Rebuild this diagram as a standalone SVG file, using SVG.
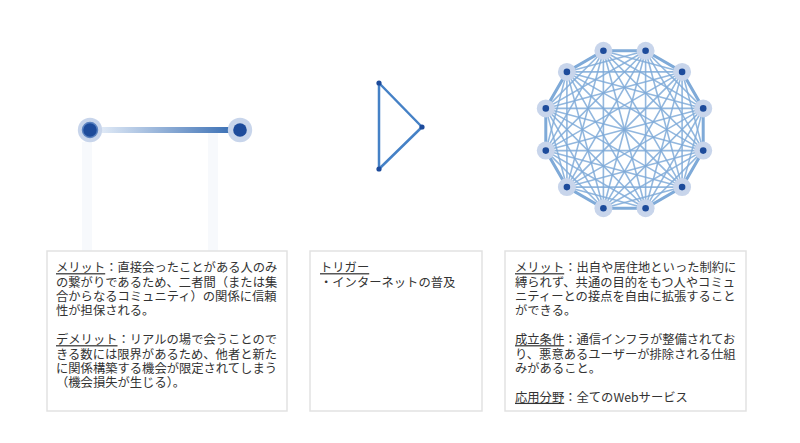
<svg xmlns="http://www.w3.org/2000/svg" width="800" height="443" viewBox="0 0 800 443">
<style>
.box{fill:#fff;stroke:#e2e2e2;stroke-width:1.5}
.t{font-family:"Noto Sans CJK JP","Noto Sans",sans-serif;font-size:12.3px;fill:#333}
.u{text-decoration:underline}
.halo{fill:#c8d5eb}
.core{fill:#1d4b9b}
.e{fill:none;stroke:#7faad8;stroke-width:1.6;stroke-opacity:0.85}
</style>
<defs>
<linearGradient id="lg" x1="102" y1="0" x2="233" y2="0" gradientUnits="userSpaceOnUse">
<stop offset="0" stop-color="#dfe9f6"/>
<stop offset="1" stop-color="#3a6fb4"/>
</linearGradient>
</defs>
<rect width="800" height="443" fill="#fff"/>

<g id="faint-bars">
<rect x="82" y="142" width="10" height="109" fill="#f7f9fc"/>
<rect x="208" y="133" width="10" height="118" fill="#f7f9fc"/>
</g>

<g id="connectors">
<line x1="102" y1="130" x2="233" y2="130" stroke="url(#lg)" stroke-width="6"/>
<polygon points="379,83 422,127 379,169" fill="none" stroke="#4581c6" stroke-width="2.5" stroke-linejoin="round"/>
<polygon points="645.6,50.8 682.1,71.9 703.2,108.4 703.2,150.6 682.1,187.1 645.6,208.2 603.4,208.2 566.9,187.1 545.8,150.6 545.8,108.4 566.9,71.9 603.4,50.8" fill="none" stroke="#7faad8" stroke-width="3"/>
<path class="e" d="M645.6 50.8L682.1 71.9M645.6 50.8L703.2 108.4M645.6 50.8L703.2 150.6M645.6 50.8L682.1 187.1M645.6 50.8L645.6 208.2M645.6 50.8L603.4 208.2M645.6 50.8L566.9 187.1M645.6 50.8L545.8 150.6M645.6 50.8L545.8 108.4M645.6 50.8L566.9 71.9M645.6 50.8L603.4 50.8"/>
<path class="e" d="M682.1 71.9L703.2 108.4M682.1 71.9L703.2 150.6M682.1 71.9L682.1 187.1M682.1 71.9L645.6 208.2M682.1 71.9L603.4 208.2M682.1 71.9L566.9 187.1M682.1 71.9L545.8 150.6M682.1 71.9L545.8 108.4M682.1 71.9L566.9 71.9M682.1 71.9L603.4 50.8"/>
<path class="e" d="M703.2 108.4L703.2 150.6M703.2 108.4L682.1 187.1M703.2 108.4L645.6 208.2M703.2 108.4L603.4 208.2M703.2 108.4L566.9 187.1M703.2 108.4L545.8 150.6M703.2 108.4L545.8 108.4M703.2 108.4L566.9 71.9M703.2 108.4L603.4 50.8"/>
<path class="e" d="M703.2 150.6L682.1 187.1M703.2 150.6L645.6 208.2M703.2 150.6L603.4 208.2M703.2 150.6L566.9 187.1M703.2 150.6L545.8 150.6M703.2 150.6L545.8 108.4M703.2 150.6L566.9 71.9M703.2 150.6L603.4 50.8"/>
<path class="e" d="M682.1 187.1L645.6 208.2M682.1 187.1L603.4 208.2M682.1 187.1L566.9 187.1M682.1 187.1L545.8 150.6M682.1 187.1L545.8 108.4M682.1 187.1L566.9 71.9M682.1 187.1L603.4 50.8"/>
<path class="e" d="M645.6 208.2L603.4 208.2M645.6 208.2L566.9 187.1M645.6 208.2L545.8 150.6M645.6 208.2L545.8 108.4M645.6 208.2L566.9 71.9M645.6 208.2L603.4 50.8"/>
<path class="e" d="M603.4 208.2L566.9 187.1M603.4 208.2L545.8 150.6M603.4 208.2L545.8 108.4M603.4 208.2L566.9 71.9M603.4 208.2L603.4 50.8"/>
<path class="e" d="M566.9 187.1L545.8 150.6M566.9 187.1L545.8 108.4M566.9 187.1L566.9 71.9M566.9 187.1L603.4 50.8"/>
<path class="e" d="M545.8 150.6L545.8 108.4M545.8 150.6L566.9 71.9M545.8 150.6L603.4 50.8"/>
<path class="e" d="M545.8 108.4L566.9 71.9M545.8 108.4L603.4 50.8"/>
<path class="e" d="M566.9 71.9L603.4 50.8"/>
</g>

<g id="pair-node-left"><circle class="halo" cx="90" cy="130" r="12.2"/><circle cx="90" cy="130" r="7.5" fill="#1d4b9b" stroke="#5a82c0" stroke-width="1.5"/></g>
<g id="pair-node-right"><circle class="halo" cx="240" cy="130" r="12.2"/><circle class="core" cx="240" cy="130" r="6.8"/></g>

<g id="tri-node-1"><circle class="core" cx="379" cy="83" r="2.6"/></g>
<g id="tri-node-2"><circle class="core" cx="422" cy="127" r="2.6"/></g>
<g id="tri-node-3"><circle class="core" cx="379" cy="169" r="2.6"/></g>

<g id="mesh-node-0"><circle class="halo" cx="645.6" cy="50.8" r="9"/><circle class="core" cx="645.6" cy="50.8" r="3.3"/></g>
<g id="mesh-node-1"><circle class="halo" cx="682.1" cy="71.9" r="9"/><circle class="core" cx="682.1" cy="71.9" r="3.3"/></g>
<g id="mesh-node-2"><circle class="halo" cx="703.2" cy="108.4" r="9"/><circle class="core" cx="703.2" cy="108.4" r="3.3"/></g>
<g id="mesh-node-3"><circle class="halo" cx="703.2" cy="150.6" r="9"/><circle class="core" cx="703.2" cy="150.6" r="3.3"/></g>
<g id="mesh-node-4"><circle class="halo" cx="682.1" cy="187.1" r="9"/><circle class="core" cx="682.1" cy="187.1" r="3.3"/></g>
<g id="mesh-node-5"><circle class="halo" cx="645.6" cy="208.2" r="9"/><circle class="core" cx="645.6" cy="208.2" r="3.3"/></g>
<g id="mesh-node-6"><circle class="halo" cx="603.4" cy="208.2" r="9"/><circle class="core" cx="603.4" cy="208.2" r="3.3"/></g>
<g id="mesh-node-7"><circle class="halo" cx="566.9" cy="187.1" r="9"/><circle class="core" cx="566.9" cy="187.1" r="3.3"/></g>
<g id="mesh-node-8"><circle class="halo" cx="545.8" cy="150.6" r="9"/><circle class="core" cx="545.8" cy="150.6" r="3.3"/></g>
<g id="mesh-node-9"><circle class="halo" cx="545.8" cy="108.4" r="9"/><circle class="core" cx="545.8" cy="108.4" r="3.3"/></g>
<g id="mesh-node-10"><circle class="halo" cx="566.9" cy="71.9" r="9"/><circle class="core" cx="566.9" cy="71.9" r="3.3"/></g>
<g id="mesh-node-11"><circle class="halo" cx="603.4" cy="50.8" r="9"/><circle class="core" cx="603.4" cy="50.8" r="3.3"/></g>

<g id="box-left">
<rect class="box" x="47" y="251" width="240" height="160"/>
<text class="t"><tspan x="56" y="272.2"><tspan class="u">メリット</tspan>：直接会ったことがある人のみ</tspan><tspan x="56" y="286.6">の繋がりであるため、二者間（または集</tspan><tspan x="56" y="301">合からなるコミュニティ）の関係に信頼</tspan><tspan x="56" y="315.4">性が担保される。</tspan><tspan x="56" y="344.2"><tspan class="u">デメリット</tspan>：リアルの場で会うことので</tspan><tspan x="56" y="358.6">きる数には限界があるため、他者と新た</tspan><tspan x="56" y="373">に関係構築する機会が限定されてしまう</tspan><tspan x="56" y="387.4">（機会損失が生じる）。</tspan></text>
</g>

<g id="box-middle">
<rect class="box" x="310" y="251" width="172" height="160"/>
<text class="t"><tspan x="320" y="272.2" class="u">トリガー</tspan><tspan x="320" y="286.6">・インターネットの普及</tspan></text>
</g>

<g id="box-right">
<rect class="box" x="505" y="251" width="241" height="160"/>
<text class="t"><tspan x="515" y="272.2"><tspan class="u">メリット</tspan>：出自や居住地といった制約に</tspan><tspan x="515" y="286.6">縛られず、共通の目的をもつ人やコミュ</tspan><tspan x="515" y="301">ニティーとの接点を自由に拡張すること</tspan><tspan x="515" y="315.4">ができる。</tspan><tspan x="515" y="344.2"><tspan class="u">成立条件</tspan>：通信インフラが整備されてお</tspan><tspan x="515" y="358.6">り、悪意あるユーザーが排除される仕組</tspan><tspan x="515" y="373">みがあること。</tspan><tspan x="515" y="401.8"><tspan class="u">応用分野</tspan>：全てのWebサービス</tspan></text>
</g>
</svg>
